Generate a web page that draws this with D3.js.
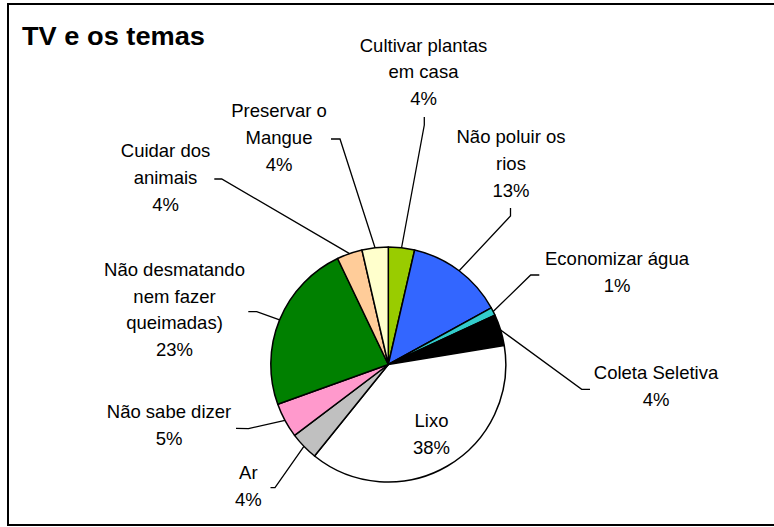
<!DOCTYPE html>
<html>
<head>
<meta charset="utf-8">
<script src="https://cdn.jsdelivr.net/npm/d3@7"></script>
<style>
  html, body { margin: 0; padding: 0; background: #fff; }
  svg { display: block; }
  text { font-family: "Liberation Sans", Arial, sans-serif; fill: #000; }
</style>
</head>
<body>
<svg id="chart" width="774" height="527"></svg>
<script>
// ---- data ----
const title = "TV e os temas";
const categories = [
  "Cultivar plantas em casa", "Não poluir os rios", "Economizar água", "Coleta Seletiva",
  "Lixo", "Ar", "Não sabe dizer", "Não desmatando nem fazer queimadas)",
  "Cuidar dos animais", "Preservar o Mangue"
];
const values = [3.6, 13.4, 1.1, 4.3, 38.4, 3.9, 4.8, 23.4, 3.5, 3.6];
const labelLines = [
  ["Cultivar plantas", "em casa"], ["Não poluir os", "rios"], ["Economizar água"], ["Coleta Seletiva"],
  ["Lixo"], ["Ar"], ["Não sabe dizer"], ["Não desmatando", "nem fazer", "queimadas)"],
  ["Cuidar dos", "animais"], ["Preservar o", "Mangue"]
];
const colors = ["#99CC00", "#3366FF", "#33CCCC", "#000000", "#FFFFFF",
                "#C0C0C0", "#FF99CC", "#008000", "#FFCC99", "#FFFFCC"];

// ---- layout (label placement, not data) ----
const labelLayout = [
  { cx: 423.5, y: 51.7, lead: [[424.3, 117], [424.3, 125]] },
  { cx: 511, y: 143.3, lead: [[510.5, 208], [510.5, 216]] },
  { cx: 617, y: 265, lead: [[539.3, 275], [530.7, 275]] },
  { cx: 656, y: 379.3, lead: [[590, 389.3], [581.7, 389.3]] },
  { cx: 431.5, y: 427.3, lead: null },
  { cx: 248.3, y: 479.3, lead: [[270.5, 487.7], [275, 487.7]] },
  { cx: 169, y: 418.3, lead: [[236, 428.3], [248.5, 428.6]] },
  { cx: 174.5, y: 276, lead: [[248.3, 311.7], [256.7, 311.7]] },
  { cx: 165.5, y: 157.3, lead: [[214.3, 179], [221.7, 179]] },
  { cx: 279, y: 117.3, lead: [[331, 139], [340, 139]] }
];
const lineH = 26.6;
const cx = 388.3, cy = 364.5, R = 117.5;

const svg = d3.select("#chart");

// frame
svg.append("rect")
  .attr("x", 8).attr("y", 4).attr("width", 790).attr("height", 521)
  .attr("fill", "none").attr("stroke", "#000").attr("stroke-width", 2);

// title
svg.append("text")
  .attr("x", 22).attr("y", 45)
  .attr("font-size", 25).attr("font-weight", "bold")
  .attr("textLength", 183).attr("lengthAdjust", "spacingAndGlyphs")
  .text(title);

const pie = d3.pie().sort(null).value(d => d).startAngle(0).endAngle(2 * Math.PI);
const arcs = pie(values);
const arc = d3.arc().innerRadius(0).outerRadius(R);
const edge = d3.arc().innerRadius(R).outerRadius(R);

const g = svg.append("g").attr("transform", `translate(${cx},${cy})`);
g.selectAll("path.slice").data(arcs).enter().append("path")
  .attr("class", "slice")
  .attr("d", arc)
  .attr("fill", (d, i) => colors[i])
  .attr("stroke", "#000").attr("stroke-width", 1.5).attr("stroke-linejoin", "round");

// leader lines
const line = d3.line();
arcs.forEach((d, i) => {
  const L = labelLayout[i];
  if (!L.lead) return;
  const c = edge.centroid(d);
  const pts = L.lead.concat([[cx + c[0], cy + c[1]]]);
  svg.append("path").attr("d", line(pts))
    .attr("fill", "none").attr("stroke", "#000").attr("stroke-width", 1.3);
});

// labels
const total = d3.sum(values);
arcs.forEach((d, i) => {
  const L = labelLayout[i];
  const lines = labelLines[i].concat([Math.round(d.value / total * 100) + "%"]);
  const t = svg.append("text").attr("text-anchor", "middle").attr("font-size", 18.5);
  lines.forEach((s, k) => {
    t.append("tspan").attr("x", L.cx).attr("y", L.y + k * lineH).text(s);
  });
});
</script>
</body>
</html>
